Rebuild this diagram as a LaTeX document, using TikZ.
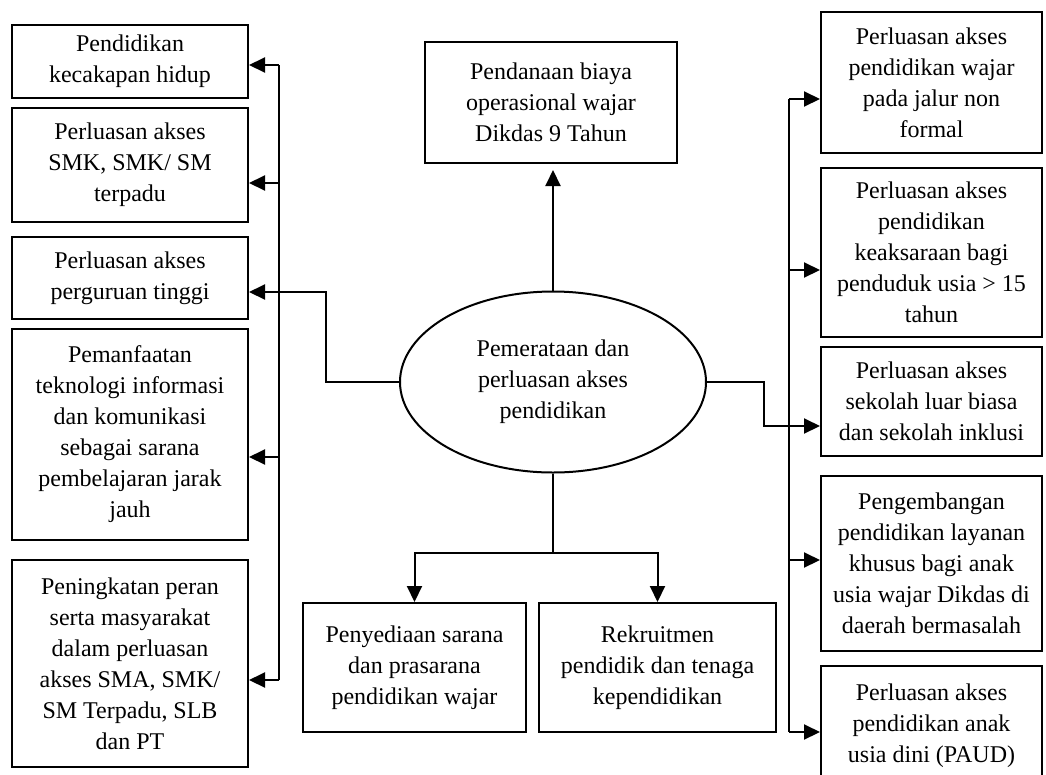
\documentclass[tikz,border=0pt]{standalone}
\usepackage{fontspec}
\setmainfont{Liberation Serif}
\usetikzlibrary{arrows.meta,shapes.geometric}

\begin{document}
\begin{tikzpicture}[x=1pt,y=-1pt,
    box/.style={draw,line width=2pt,align=center,inner sep=0pt,
        font=\fontsize{24}{31}\selectfont},
    arr/.style={line width=2pt,-{Triangle[length=16pt,width=15pt]}},
    bus/.style={line width=1.5pt}]
\useasboundingbox (0,0) rectangle (1046,774);

\node[box,minimum width=236pt,minimum height=73pt] (l1) at (130,61.5)
    {Pendidikan\\kecakapan hidup};
\node[box,minimum width=236pt,minimum height=114pt] (l2) at (130,165)
    {Perluasan akses\\SMK, SMK/ SM\\terpadu};
\node[box,minimum width=236pt,minimum height=82pt] (l3) at (130,278)
    {Perluasan akses\\perguruan tinggi};
\node[box,minimum width=236pt,minimum height=211pt] (l4) at (130,434.5)
    {Pemanfaatan\\teknologi informasi\\dan komunikasi\\sebagai sarana\\pembelajaran jarak\\jauh};
\node[box,minimum width=236pt,minimum height=207pt] (l5) at (130,663.5)
    {Peningkatan peran\\serta masyarakat\\dalam perluasan\\akses SMA, SMK/\\SM Terpadu, SLB\\dan PT};

\node[box,minimum width=252pt,minimum height=121pt] (t) at (551,102.5)
    {Pendanaan biaya\\operasional wajar\\Dikdas 9 Tahun};
\node[box,ellipse,minimum width=306pt,minimum height=181pt] (e) at (553,382)
    {Pemerataan dan\\perluasan akses\\pendidikan};

\node[box,minimum width=223pt,minimum height=129pt] (b1) at (414.5,667.5)
    {Penyediaan sarana\\dan prasarana\\pendidikan wajar};
\node[box,minimum width=237pt,minimum height=129pt] (b2) at (657.5,667.5)
    {Rekruitmen\\pendidik dan tenaga\\kependidikan};

\node[box,minimum width=221pt,minimum height=141pt] (r1) at (931.5,82.5)
    {Perluasan akses\\pendidikan wajar\\pada jalur non\\formal};
\node[box,minimum width=221pt,minimum height=169pt] (r2) at (931.5,252.5)
    {Perluasan akses\\pendidikan\\keaksaraan bagi\\penduduk usia > 15\\tahun};
\node[box,minimum width=221pt,minimum height=109pt] (r3) at (931.5,401.5)
    {Perluasan akses\\sekolah luar biasa\\dan sekolah inklusi};
\node[box,minimum width=221pt,minimum height=175pt] (r4) at (931.5,563.5)
    {Pengembangan\\pendidikan layanan\\khusus bagi anak\\usia wajar Dikdas di\\daerah bermasalah};
\node[box,minimum width=221pt,minimum height=119pt] (r5) at (931.5,725.5)
    {Perluasan akses\\pendidikan anak\\usia dini (PAUD)};

\coordinate (lp1) at (279,65);
\coordinate (lp2) at (279,183);
\coordinate (lp3) at (279,292);
\coordinate (lp4) at (279,457);
\coordinate (lp5) at (279,680);
\coordinate (rp1) at (789,99);
\coordinate (rp2) at (789,270);
\coordinate (rp3) at (789,426);
\coordinate (rp4) at (789,560);
\coordinate (rp5) at (789,732);
\coordinate (lk) at (326,0);
\coordinate (rk) at (764,0);
\coordinate (bm) at (553,553);

\draw[bus] (lp1) -- (lp5);
\draw[bus] (rp1) -- (rp5);
\foreach \i in {1,2,4,5}
    \draw[arr] (lp\i) -- (lp\i -| l\i.east);
\foreach \i in {1,2,4,5}
    \draw[arr] (rp\i) -- (rp\i -| r\i.west);

\draw[arr] (e.west) -- (e.west -| lk) -- (lk |- lp3) -- (lp3 -| l3.east);
\draw[arr] (e.east) -- (e.east -| rk) -- (rk |- rp3) -- (rp3 -| r3.west);
\draw[arr,shorten >=6pt] (e.north) -- (e.north |- t.south);
\draw[bus] (e.south) -- (bm);
\draw[arr] (bm) -| (b1.north);
\draw[arr] (bm) -| (b2.north);
\end{tikzpicture}
\end{document}
